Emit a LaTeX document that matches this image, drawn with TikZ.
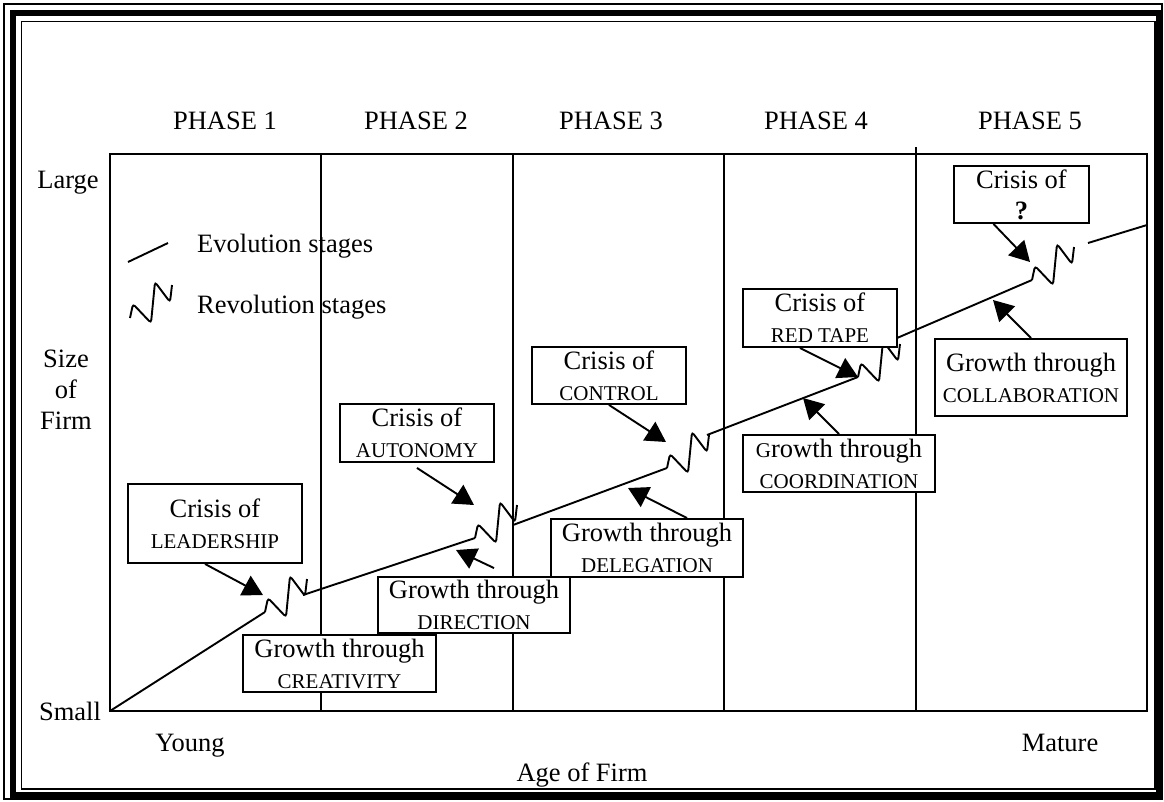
\documentclass[tikz,border=0pt]{standalone}
\usepackage{fontspec}
\setmainfont{Liberation Serif}
\usetikzlibrary{arrows.meta}

\newcommand{\bigtxt}{\fontsize{26.5}{31}\selectfont}
\newcommand{\captxt}[1]{{\fontsize{21}{24}\selectfont #1}}

\begin{document}
\begin{tikzpicture}[x=1pt, y=-1pt,
    thin rule/.style={line width=1.5pt},
    frame/.style={line width=1.9pt},
    evo/.style={line width=1.9pt},
    stagebox/.style={draw, fill=white, line width=1.9pt, inner sep=0pt, align=center, font=\bigtxt},
    label/.style={font=\bigtxt, inner sep=0pt},
    push/.style={line width=1.9pt, -{Triangle[length=20pt,width=22pt]}},
    revwave/.pic={
        \draw[line width=1.9pt, rounded corners=3pt] (0,0) -- (3,-14) -- (21,5) -- (25,-36) -- (40,-16) -- (42,-33);
        \coordinate (-in) at (0,0);
        \coordinate (-out) at (42,-33);
    }]
    \useasboundingbox (0,0) rectangle (1164,801);

    % Page frame
    \draw[thin rule] (4,4) rectangle (1162,799);
    \draw[line width=6pt] (13,12.5) rectangle (1159,794.5);
    \draw[thin rule] (21.5,21.5) rectangle (1155,789);

    % Plot area and phase borders
    \draw[frame] (110,154) rectangle (1147,711);
    \draw[frame] (321,154) -- (321,711);
    \draw[frame] (513,154) -- (513,711);
    \draw[frame] (724,154) -- (724,711);
    \draw[frame] (916,147) -- (916,711);

    % Phase titles
    \node[label] (p1) at (225,121) {PHASE 1};
    \node[label] (p2) at (416,121) {PHASE 2};
    \node[label] (p3) at (611,121) {PHASE 3};
    \node[label] (p4) at (816,121) {PHASE 4};
    \node[label] (p5) at (1030,121) {PHASE 5};

    % Axis labels
    \node[label] (large) at (68,183) {Large};
    \node[label, align=center] (size) at (66,390) {Size\\of\\Firm};
    \node[label] (small) at (70,711) {Small};
    \node[label, anchor=base] (young) at (190,751) {Young};
    \node[label, anchor=base] (mature) at (1060,751) {Mature};
    \node[label] (age) at (582,775) {Age of Firm};

    % Legend
    \coordinate (leg0) at (128,262);
    \coordinate (leg1) at (168,243);
    \draw[evo] (leg0) -- (leg1);
    \pic (legw) at (130,318) {revwave};
    \node[label, anchor=base west] (evotxt) at (197,252) {Evolution stages};
    \node[label, anchor=base west] (revtxt) at (197,313) {Revolution stages};

    % Revolution stages
    \pic (w1) at (265,612) {revwave};
    \pic (w2) at (475,538) {revwave};
    \pic (w3) at (667,468) {revwave};
    \pic (w4) at (858,377) {revwave};
    \pic (w5) at (1032,280) {revwave};

    % Evolution stages
    \coordinate (origin) at (110,711);
    \coordinate (e2) at (303,595);
    \coordinate (e3) at (513,525);
    \coordinate (e4) at (707,435);
    \coordinate (e5) at (897,338);
    \coordinate (e6) at (1088,243);
    \coordinate (rim) at (1147,225);
    \draw[evo] (origin) -- (w1-in);
    \draw[evo] (e2) -- (w2-in);
    \draw[evo] (e3) -- (w3-in);
    \draw[evo] (e4) -- (w4-in);
    \draw[evo] (e5) -- (w5-in);
    \draw[evo] (e6) -- (rim);

    % Crisis boxes
    \node[stagebox, minimum width=174pt, minimum height=79pt] (lead) at (215,523.5) {Crisis of\\\captxt{LEADERSHIP}};
    \node[stagebox, minimum width=154pt, minimum height=58pt] (auto) at (417,433) {Crisis of\\\captxt{AUTONOMY}};
    \node[stagebox, minimum width=154pt, minimum height=57pt] (ctrl) at (609,375.5) {Crisis of\\\captxt{CONTROL}};
    \node[stagebox, minimum width=154pt, minimum height=58pt] (red) at (820,318) {Crisis of\\\captxt{RED TAPE}};
    \node[stagebox, minimum width=135pt, minimum height=57pt] (what) at (1021.5,194.5) {Crisis of\\\textbf{?}};

    % Growth boxes
    \node[stagebox, minimum width=193pt, minimum height=57pt] (crea) at (339.5,663.5) {Growth through\\\captxt{CREATIVITY}};
    \node[stagebox, minimum width=192pt, minimum height=56pt] (dir) at (474,605) {Growth through\\\captxt{DIRECTION}};
    \node[stagebox, minimum width=192pt, minimum height=58pt] (dele) at (647,548) {Growth through\\\captxt{DELEGATION}};
    \node[stagebox, minimum width=192pt, minimum height=57pt] (coord) at (839,463.5) {\captxt{G}rowth through\\\captxt{COORDINATION}};
    \node[stagebox, minimum width=192pt, minimum height=77pt] (coll) at (1031,377.5) {Growth through\\\captxt{COLLABORATION}};

    % Arrow tips
    \coordinate (t1) at (263,595);
    \coordinate (t2) at (456,550);
    \coordinate (t3) at (474,505);
    \coordinate (t4) at (666,442);
    \coordinate (t5) at (628,488);
    \coordinate (t6) at (858,377);
    \coordinate (t7) at (803,398);
    \coordinate (t8) at (1030,262);
    \coordinate (t9) at (993,300);

    % Arrows into the stages
    \draw[push] ([xshift=-10pt]lead.south) -- (t1);
    \draw[push] ([xshift=20pt,yshift=8pt]dir.north) -- (t2);
    \draw[push] ([yshift=-5pt]auto.south) -- (t3);
    \draw[push] (ctrl.south) -- (t4);
    \draw[push] ([xshift=40pt]dele.north) -- (t5);
    \draw[push] ([xshift=-20pt]red.south) -- (t6);
    \draw[push] (coord.north) -- (t7);
    \draw[push] ([xshift=-28pt]what.south) -- (t8);
    \draw[push] (coll.north) -- (t9);

\end{tikzpicture}
\end{document}
